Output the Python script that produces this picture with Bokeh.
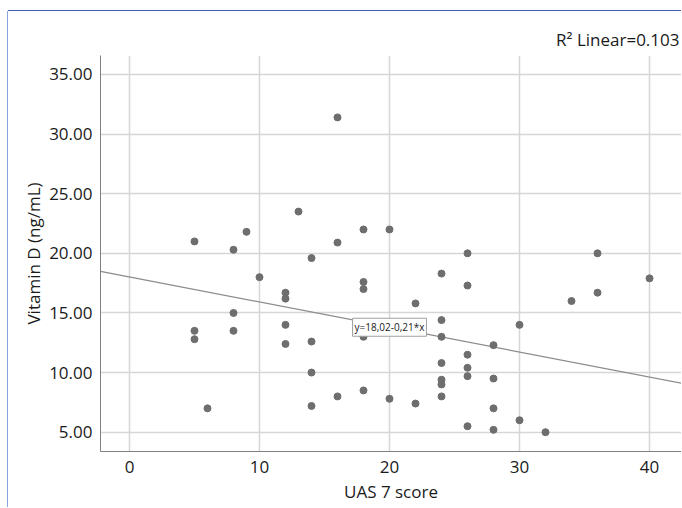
from bokeh.plotting import figure
from bokeh.models import Range1d, Label, ColumnDataSource
from bokeh.embed import file_html
from bokeh.resources import INLINE

# ---- data ----
uas7 = [5, 5, 5, 6, 8, 8, 8, 9, 10,
        12, 12, 12, 12, 13,
        14, 14, 14, 14,
        16, 16, 16,
        18, 18, 18, 18, 18,
        20, 20, 22, 22,
        24, 24, 24, 24, 24, 24, 24,
        26, 26, 26, 26, 26, 26,
        28, 28, 28, 28,
        30, 30, 32, 34, 36, 36, 40]
vitamin_d = [21.0, 13.5, 12.8, 7.0, 20.3, 15.0, 13.5, 21.8, 18.0,
             16.7, 16.2, 14.0, 12.4, 23.5,
             19.6, 12.6, 10.0, 7.2,
             31.4, 20.9, 8.0,
             22.0, 17.6, 17.0, 13.0, 8.5,
             22.0, 7.8, 15.8, 7.4,
             18.3, 14.4, 13.0, 10.8, 9.4, 9.0, 8.0,
             20.0, 17.3, 11.5, 10.4, 9.7, 5.5,
             12.3, 9.5, 7.0, 5.2,
             14.0, 6.0, 5.0, 16.0, 20.0, 16.7, 17.9]

fit_intercept = 18.02
fit_slope = -0.21
fit_label = "y=18,02-0,21*x"
r2_label = "R\u00b2 Linear=0.103"

x_ticks = [0, 10, 20, 30, 40]
y_ticks = [5, 10, 15, 20, 25, 30, 35]
y_tick_labels = ["5.00", "10.00", "15.00", "20.00", "25.00", "30.00", "35.00"]

x_title = "UAS 7 score"
y_title = "Vitamin D (ng/mL)"

FONT = "Open Sans"
TXT = "#1a1a1a"

x_lo, x_hi = -2.23, 42.46
y_lo, y_hi = 3.38, 36.59

p = figure(width=673, height=496, output_backend="svg", toolbar_location=None,
           x_range=Range1d(x_lo, x_hi), y_range=Range1d(y_lo, y_hi),
           min_border_left=92, min_border_right=0, min_border_top=44,
           min_border_bottom=56)
p.styles = {"margin-left": "8px", "margin-top": "11px",
            "box-shadow": "-1px 0 0 0 #8aa3dc, 0 -1px 0 0 #3b5daa"}
p.background_fill_color = "white"
p.border_fill_color = "white"
p.outline_line_color = None

# R^2 as a right-aligned title
p.title.text = r2_label
p.title.align = "right"
p.title.text_font = FONT
p.title.text_font_size = "17px"
p.title.text_font_style = "normal"
p.title.text_color = TXT
p.title.offset = 2
p.title.standoff = 10

# grid
p.xgrid.ticker = x_ticks
p.ygrid.ticker = y_ticks
p.grid.grid_line_color = "#d6d6d6"
p.grid.grid_line_width = 1.5

# axes
p.xaxis.ticker = x_ticks
p.yaxis.ticker = y_ticks
p.yaxis.major_label_overrides = {t: l for t, l in zip(y_ticks, y_tick_labels)}
for ax in (p.xaxis, p.yaxis):
    ax.axis_line_color = "#808080"
    ax.axis_line_width = 1
    ax.major_tick_line_color = None
    ax.minor_tick_line_color = None
    ax.major_tick_out = 0
    ax.major_tick_in = 0
    ax.major_label_text_font = FONT
    ax.major_label_text_font_size = "17px"
    ax.major_label_text_color = TXT
    ax.axis_label_text_font = FONT
    ax.axis_label_text_font_size = "17px"
    ax.axis_label_text_font_style = "normal"
    ax.axis_label_text_color = TXT
p.xaxis.axis_label = x_title
p.yaxis.axis_label = y_title
p.xaxis.major_label_standoff = 9
p.xaxis.axis_label_standoff = 4
p.yaxis.major_label_standoff = 8
p.yaxis.axis_label_standoff = 1

# fit line across the x range
fx = [x_lo, x_hi]
fy = [fit_intercept + fit_slope * v for v in fx]
p.line(fx, fy, line_color="#8c8c8c", line_width=1.2)

# points
src = ColumnDataSource(dict(x=uas7, y=vitamin_d))
p.scatter("x", "y", source=src, size=7, fill_color="#6e6e6e", line_color="#6e6e6e")

# fit equation label
eq_x = 20
eq_y = 13.8
p.add_layout(Label(x=eq_x, y=eq_y, text=fit_label, text_align="center",
                   text_baseline="middle", text_font=FONT, text_font_size="10px",
                   text_color=TXT, background_fill_color="white",
                   border_line_color="#a0a0a0", border_line_width=1, padding=2))

open("out.html", "w").write(file_html(p, INLINE))
